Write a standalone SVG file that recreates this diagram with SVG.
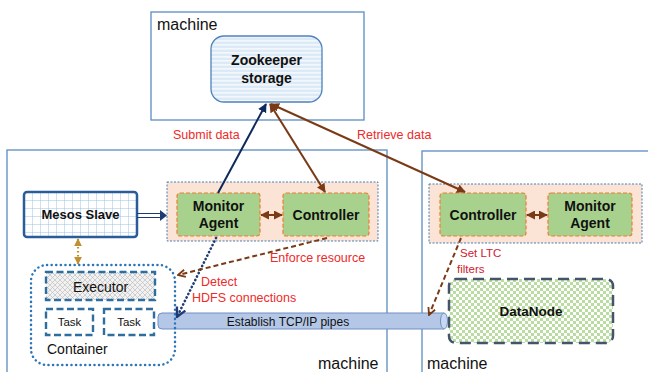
<svg xmlns="http://www.w3.org/2000/svg" width="648" height="372" viewBox="0 0 648 372">
<style>
text{font-family:"Liberation Sans",Arial,sans-serif}
.mach{fill:none;stroke:#5B8DC0;stroke-width:1.3}
.mt{font-size:16px;fill:#111}
.b{font-weight:bold;fill:#111}
.red{fill:#EE2A2A;font-size:12.5px}
.grp{fill:#FBE3D6;stroke:#4A7FB5;stroke-width:1;stroke-dasharray:2 1.5}
.grn{fill:#A9D18E;stroke:#ED7D31;stroke-width:1.2;stroke-dasharray:4 2}
.bx{stroke:#2E6E9E;stroke-width:2.4;stroke-dasharray:7 3.5}
</style>
<defs>
<pattern id="stripes" width="8" height="4" patternUnits="userSpaceOnUse"><rect width="8" height="4" fill="#DCE9F7"/><rect width="8" height="1.6" fill="#F4F8FD"/></pattern>
<pattern id="grid" width="8" height="8" patternUnits="userSpaceOnUse"><rect width="8" height="8" fill="#fff"/><path d="M0 0H8M0 0V8" stroke="#9DC3E6" stroke-width="1"/></pattern>
<pattern id="hatch" width="5" height="5" patternUnits="userSpaceOnUse"><rect width="5" height="5" fill="#F2F2F2"/><path d="M0 0L5 5M5 0L0 5" stroke="#BFBFBF" stroke-width="0.7"/></pattern>
<pattern id="check" width="6" height="6" patternUnits="userSpaceOnUse"><rect width="6" height="6" fill="#fff"/><rect width="3" height="3" fill="#B9DCA0"/><rect x="3" y="3" width="3" height="3" fill="#B9DCA0"/></pattern>
<marker id="aNavy" viewBox="0 0 10 10" refX="9" refY="5" markerWidth="4.5" markerHeight="4.5" orient="auto-start-reverse"><path d="M0 0L10 5L0 10z" fill="#0E2A5C"/></marker>
<marker id="aBrown" viewBox="0 0 10 10" refX="9" refY="5" markerWidth="4.5" markerHeight="4.5" orient="auto-start-reverse"><path d="M0 0L10 5L0 10z" fill="#7B3A16"/></marker>
<marker id="aBrownO" viewBox="0 0 10 10" refX="9" refY="5" markerWidth="4.5" markerHeight="4.5" orient="auto-start-reverse"><path d="M1 1L9 5L1 9" fill="none" stroke="#7B3A16" stroke-width="2"/></marker>
<marker id="aNavyO" viewBox="0 0 10 10" refX="9" refY="5" markerWidth="4.5" markerHeight="4.5" orient="auto-start-reverse"><path d="M1 1L9 5L1 9" fill="none" stroke="#1F3B73" stroke-width="2"/></marker>
<marker id="aGold" viewBox="0 0 10 10" refX="9" refY="5" markerWidth="3.5" markerHeight="3.5" orient="auto-start-reverse"><path d="M0 0L10 5L0 10z" fill="#BF9030"/></marker>
</defs>
<rect width="648" height="372" fill="#fff"/>

<g id="machine-top">
<rect class="mach" x="151" y="12" width="213" height="108"/>
<text class="mt" x="157" y="30">machine</text>
</g>
<g id="machine-left">
<rect class="mach" x="7" y="150" width="380" height="230"/>
<text class="mt" x="318" y="369">machine</text>
</g>
<g id="machine-right">
<rect class="mach" x="422" y="151" width="240" height="230"/>
<text class="mt" x="427" y="369">machine</text>
</g>

<g id="zookeeper">
<rect x="211" y="36" width="111" height="66" rx="13" fill="url(#stripes)" stroke="#4F81BD" stroke-width="1.3"/>
<text class="b" x="266.5" y="65" font-size="14" text-anchor="middle">Zookeeper</text>
<text class="b" x="266.5" y="83" font-size="14" text-anchor="middle">storage</text>
</g>

<g id="mesos-slave">
<rect x="24" y="192" width="113" height="45" rx="3" fill="url(#grid)" stroke="#2B5C9A" stroke-width="2.5"/>
<text class="b" x="80.5" y="219" font-size="13" text-anchor="middle">Mesos Slave</text>
</g>

<g id="group-left">
<rect class="grp" x="167" y="182" width="211" height="59"/>
</g>
<g id="monitor-left">
<rect class="grn" x="177" y="193" width="83" height="43" rx="3"/>
<text class="b" x="218.5" y="211" font-size="14" text-anchor="middle">Monitor</text>
<text class="b" x="218.5" y="228" font-size="14" text-anchor="middle">Agent</text>
</g>
<g id="controller-left">
<rect class="grn" x="283" y="193" width="86" height="43" rx="3"/>
<text class="b" x="326" y="220" font-size="14" text-anchor="middle">Controller</text>
</g>

<g id="group-right">
<rect class="grp" x="429" y="184" width="213" height="59"/>
</g>
<g id="controller-right">
<rect class="grn" x="440" y="193" width="86" height="43" rx="3"/>
<text class="b" x="483" y="220" font-size="14" text-anchor="middle">Controller</text>
</g>
<g id="monitor-right">
<rect class="grn" x="548" y="193" width="84" height="43" rx="3"/>
<text class="b" x="590" y="211" font-size="14" text-anchor="middle">Monitor</text>
<text class="b" x="590" y="228" font-size="14" text-anchor="middle">Agent</text>
</g>

<g id="datanode">
<rect x="449" y="279" width="164" height="64" rx="7" fill="url(#check)" stroke="#44546A" stroke-width="2.5" stroke-dasharray="11 6"/>
<text class="b" x="531" y="316" font-size="13.5" text-anchor="middle">DataNode</text>
</g>

<g id="pipe">
<path d="M162 313H444V329H162Q158 329 158 325V317Q158 313 162 313Z" fill="#B4C7E7" stroke="#6E8FC4" stroke-width="1"/>
<ellipse cx="444" cy="321" rx="3.5" ry="8" fill="#C9D8F0" stroke="#6E8FC4" stroke-width="1"/>
<text x="288" y="326" font-size="12" fill="#111" text-anchor="middle">Establish TCP/IP pipes</text>
</g>

<g id="container">
<rect x="31" y="265" width="144" height="100" rx="16" fill="none" stroke="#2E75B6" stroke-width="2.5" stroke-dasharray="0.1 4.5" stroke-linecap="round"/>
<text x="47" y="354" font-size="14" fill="#111">Container</text>
</g>
<g id="executor">
<rect class="bx" x="46" y="272" width="109" height="28" fill="url(#hatch)"/>
<text x="100.5" y="292" font-size="14" fill="#111" text-anchor="middle">Executor</text>
</g>
<g id="task1">
<rect class="bx" x="46" y="309" width="47" height="26" fill="#fff"/>
<text x="69.5" y="326" font-size="11.5" fill="#111" text-anchor="middle">Task</text>
</g>
<g id="task2">
<rect class="bx" x="104" y="309" width="50" height="26" fill="#fff"/>
<text x="129" y="326" font-size="11.5" fill="#111" text-anchor="middle">Task</text>
</g>

<g id="connectors">
<line x1="218" y1="193" x2="266" y2="104" stroke="#0E2A5C" stroke-width="2" marker-end="url(#aNavy)"/>
<line x1="270" y1="104" x2="325" y2="192" stroke="#7B3A16" stroke-width="2" marker-start="url(#aBrown)" marker-end="url(#aBrown)"/>
<line x1="271" y1="104" x2="465" y2="192" stroke="#7B3A16" stroke-width="2" marker-start="url(#aBrown)" marker-end="url(#aBrown)"/>
<line x1="261" y1="215" x2="282" y2="215" stroke="#7B3A16" stroke-width="2" marker-start="url(#aBrown)" marker-end="url(#aBrown)"/>
<line x1="527" y1="215" x2="547" y2="215" stroke="#7B3A16" stroke-width="2" marker-start="url(#aBrown)" marker-end="url(#aBrown)"/>
<path d="M137 213.5H162M137 217.5H162" stroke="#1F3B73" stroke-width="1.2" fill="none"/>
<path d="M160 210L167 215.5L160 221z" fill="#1F3B73"/>
<line x1="78" y1="239" x2="78" y2="264" stroke="#BF9030" stroke-width="2.2" stroke-dasharray="1.5 2.5" marker-start="url(#aGold)" marker-end="url(#aGold)"/>
<line x1="216" y1="238" x2="177" y2="317" stroke="#1F3B73" stroke-width="2.6" stroke-dasharray="0.1 3.8" stroke-linecap="round" marker-end="url(#aNavyO)"/>
<line x1="327" y1="238" x2="178" y2="275" stroke="#7B3A16" stroke-width="2" stroke-dasharray="5 3" marker-end="url(#aBrownO)"/>
<line x1="461" y1="238" x2="429" y2="315" stroke="#7B3A16" stroke-width="2" stroke-dasharray="5 3" marker-end="url(#aBrownO)"/>
</g>

<g id="labels">
<text class="red" x="173" y="139">Submit data</text>
<text class="red" x="357" y="139">Retrieve data</text>
<text class="red" x="270" y="262">Enforce resource</text>
<text class="red" x="201" y="286">Detect</text>
<text class="red" x="192" y="302" font-size="12">HDFS connections</text>
<text x="460" y="257" font-size="11.5" fill="#D02030">Set LTC</text>
<text x="457" y="273" font-size="11.5" fill="#D02030">filters</text>
</g>
</svg>
